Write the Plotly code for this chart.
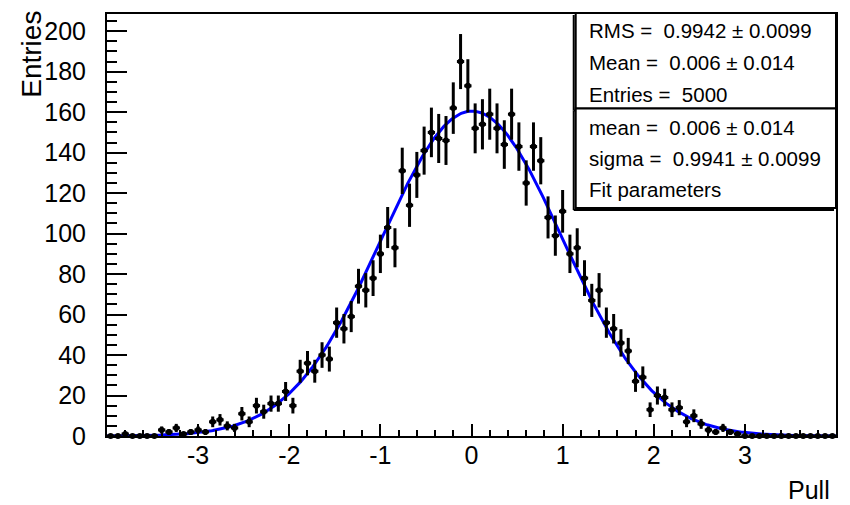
import numpy as np
import plotly.graph_objects as go

# ---------------- data ----------------
x_low, x_high, n_bins = -4.0, 4.0, 100
counts = [
    0, 0, 1, 0, 0, 0, 0, 3, 2, 4,
    1, 2, 3, 2, 7, 8, 5, 4, 11, 7,
    15, 12, 16, 16, 22, 15, 32, 36, 32, 40,
    38, 56, 53, 59, 74, 72, 78, 90, 103, 93,
    131, 114, 129, 141, 150, 147, 146, 162, 185, 173,
    152, 154, 159, 152, 144, 159, 143, 125, 143, 136,
    108, 99, 111, 90, 93, 78, 67, 72, 56, 53,
    46, 42, 27, 29, 13, 20, 19, 13, 14, 7,
    10, 6, 3, 2, 4, 2, 1, 0, 0, 0,
    0, 0, 0, 0, 0, 0, 0, 0, 0, 0,
]
n_entries = 5000
fit_mean = 0.006
fit_sigma = 0.9941
stats_lines_top = ["RMS =\u00a0 0.9942 \u00b1 0.0099",
                   "Mean =\u00a0 0.006 \u00b1 0.014",
                   "Entries =\u00a0 5000"]
stats_lines_bottom = ["mean =\u00a0 0.006 \u00b1 0.014",
                      "sigma =\u00a0 0.9941 \u00b1 0.0099",
                      "Fit parameters"]
x_tick_vals = [-3, -2, -1, 0, 1, 2, 3]
x_tick_text = ["-3", "-2", "-1", "0", "1", "2", "3"]

# ---------------- derived ----------------
edges = np.linspace(x_low, x_high, n_bins + 1)
centers = 0.5 * (edges[:-1] + edges[1:])
bw = edges[1] - edges[0]
counts = np.array(counts, dtype=float)
errs = np.sqrt(counts)

xf = np.linspace(x_low, x_high, 600)
amp = n_entries * bw / (np.sqrt(2 * np.pi) * fit_sigma)
yf = amp * np.exp(-0.5 * ((xf - fit_mean) / fit_sigma) ** 2)

W, H = 850, 505
L, R, T, B = 107, 838, 12, 436


def px(xp):
    return (xp - L) / (R - L)


def py(yp):
    return (B - yp) / (B - T)


FONT = "Liberation Sans, Arial, Helvetica, sans-serif"

fig = go.Figure()
fig.add_trace(go.Scatter(
    x=xf, y=yf, mode="lines",
    line=dict(color="rgb(0,0,255)", width=3),
    hoverinfo="skip", showlegend=False, cliponaxis=True))
fig.add_trace(go.Scatter(
    x=centers, y=counts, mode="markers",
    marker=dict(color="black", size=6, symbol="circle"),
    error_y=dict(type="data", array=errs, visible=True, color="black",
                 thickness=3, width=0),
    error_x=dict(type="constant", value=bw / 2, visible=True, color="black",
                 thickness=3, width=0),
    showlegend=False, cliponaxis=False))

fig.update_layout(
    width=W, height=H,
    margin=dict(l=L, r=W - R, t=T, b=H - B, pad=0),
    paper_bgcolor="white", plot_bgcolor="white",
    font=dict(family=FONT, color="black"),
    xaxis=dict(range=[x_low, x_high], tickvals=x_tick_vals,
               ticktext=x_tick_text,
               ticks="inside", ticklen=12, tickwidth=1.5, tickcolor="black",
               minor=dict(dtick=0.2, tick0=0, ticks="inside", ticklen=6,
                          tickwidth=1.5, tickcolor="black", showgrid=False),
               showgrid=False, zeroline=False, showline=True, mirror=True,
               linecolor="black", linewidth=2,
               tickfont=dict(size=25, family=FONT), ticklabelstandoff=-4),
    yaxis=dict(range=[0, 208.5], dtick=20, tick0=0,
               ticks="inside", ticklen=20, tickwidth=1.5, tickcolor="black",
               minor=dict(dtick=5, tick0=0, ticks="inside", ticklen=10,
                          tickwidth=1.5, tickcolor="black", showgrid=False),
               showgrid=False, zeroline=False, showline=True, mirror=True,
               linecolor="black", linewidth=2,
               tickfont=dict(size=25, family=FONT), ticklabelstandoff=14),
)

# axis titles
fig.add_annotation(text="Pull", xref="paper", yref="paper",
                   x=px(834), y=py(490), xanchor="right", yanchor="middle",
                   showarrow=False, font=dict(size=25, family=FONT))
fig.add_annotation(text="Entries", xref="paper", yref="paper",
                   x=px(31), y=py(7), xanchor="center", yanchor="top",
                   textangle=-90, showarrow=False,
                   font=dict(size=28, family=FONT))

# stats boxes
bx0, bx1 = 577, 838
for (ytop, ybot) in [(11, 107), (107, 207)]:
    fig.add_shape(type="rect", xref="paper", yref="paper",
                  x0=px(bx0), x1=px(bx1), y0=py(ybot), y1=py(ytop),
                  line=dict(color="black", width=2), fillcolor="white",
                  layer="above")
    fig.add_shape(type="line", xref="paper", yref="paper",
                  x0=px(bx0 - 2), x1=px(bx0 - 2), y0=py(ybot + 2), y1=py(ytop + 2),
                  line=dict(color="black", width=2), layer="above")
    fig.add_shape(type="line", xref="paper", yref="paper",
                  x0=px(bx0 - 2), x1=px(bx1 - 2), y0=py(ybot + 2), y1=py(ybot + 2),
                  line=dict(color="black", width=2), layer="above")

ys = [29, 61, 93, 126, 157, 188]
for txt, yc in zip(stats_lines_top + stats_lines_bottom, ys):
    fig.add_annotation(text=txt, xref="paper", yref="paper",
                       x=px(588), y=py(yc), xanchor="left", yanchor="middle",
                       showarrow=False, font=dict(size=20.5, family=FONT))

fig.write_html("out.html")
